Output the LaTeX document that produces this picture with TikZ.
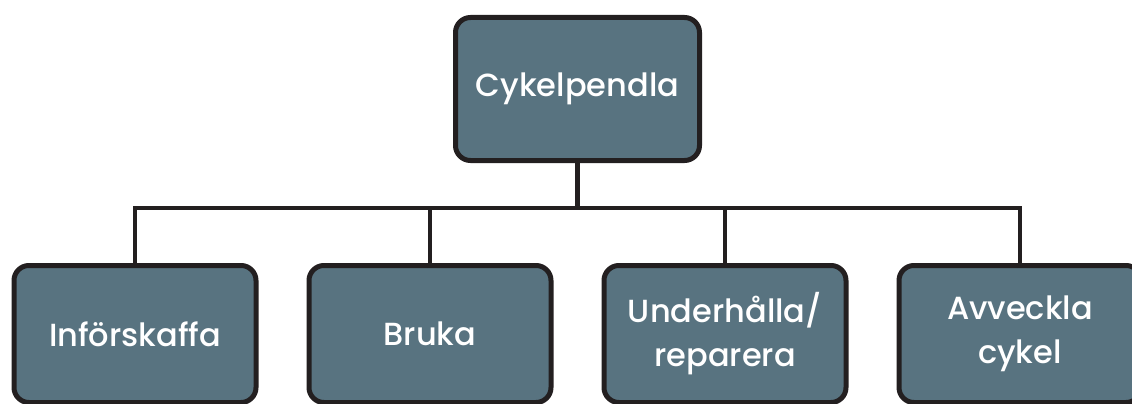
\documentclass[tikz,border=0pt]{standalone}
\usepackage{fontspec}
\setmainfont{Poppins Medium}
\usepackage{tikz}
\usetikzlibrary{positioning}
\definecolor{boxfill}{HTML}{587380}
\definecolor{boxline}{HTML}{231F20}
\tikzset{basic/.style={draw=boxline,fill=boxfill,line width=5pt,rounded corners=15pt,
                       text=white,align=center,font=\fontsize{32}{44}\selectfont}}
\tikzset{task/.style={basic,minimum width=242pt,minimum height=137pt}}
\def\colsep{295}
\begin{document}
\begin{tikzpicture}[x=1pt,y=-1pt]
    \tikzstyle{link}=[draw=boxline,line width=4.5pt]
    \useasboundingbox (0,0) rectangle (1132,404);

    % Draw the top node
    \node[basic,minimum width=244pt,minimum height=143pt] (top) at (577.5,89) {Cykelpendla};

    % Draw the task nodes
    \foreach \name / \i / \txt in {buy/0/Införskaffa,use/1/Bruka,fix/2/{Underhålla/\\reparera},end/3/{Avveckla\\cykel}}
        \node[task] (T-\name) at (135+\i*\colsep,334) {\txt};

    % Connect the top node with every task node
    \coordinate (hub) at (577.5,208);
    \path[link] (top.south) -- (hub);
    \foreach \name in {buy,use,fix,end}
        \path[link] (hub) -| (T-\name.north);
\end{tikzpicture}
\end{document}
